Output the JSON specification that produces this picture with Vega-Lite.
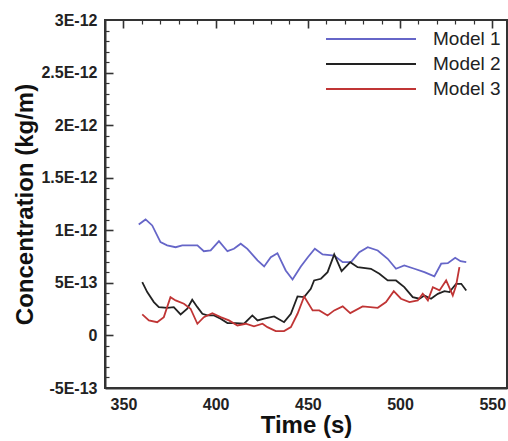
{
  "$schema": "https://vega.github.io/schema/vega-lite/v6.json",
  "width": 402,
  "height": 368,
  "autosize": {"type": "none"},
  "padding": {"left": 105, "top": 20, "right": 1, "bottom": 53},
  "background": "white",
  "config": {
    "font": "Liberation Sans",
    "view": {"stroke": "#333333", "strokeWidth": 2}
  },
  "data": {
    "values": [
      {"t": 358.3, "c": 1.055e-12, "model": "Model 1"},
      {"t": 362.0, "c": 1.103e-12, "model": "Model 1"},
      {"t": 365.6, "c": 1.046e-12, "model": "Model 1"},
      {"t": 370.1, "c": 8.87e-13, "model": "Model 1"},
      {"t": 373.7, "c": 8.56e-13, "model": "Model 1"},
      {"t": 378.3, "c": 8.39e-13, "model": "Model 1"},
      {"t": 381.9, "c": 8.56e-13, "model": "Model 1"},
      {"t": 390.1, "c": 8.56e-13, "model": "Model 1"},
      {"t": 393.6, "c": 8.01e-13, "model": "Model 1"},
      {"t": 397.3, "c": 8.08e-13, "model": "Model 1"},
      {"t": 401.8, "c": 8.96e-13, "model": "Model 1"},
      {"t": 406.4, "c": 8.01e-13, "model": "Model 1"},
      {"t": 409.9, "c": 8.24e-13, "model": "Model 1"},
      {"t": 413.6, "c": 8.72e-13, "model": "Model 1"},
      {"t": 417.2, "c": 8.24e-13, "model": "Model 1"},
      {"t": 422.7, "c": 7.13e-13, "model": "Model 1"},
      {"t": 426.3, "c": 6.56e-13, "model": "Model 1"},
      {"t": 429.9, "c": 7.44e-13, "model": "Model 1"},
      {"t": 433.5, "c": 7.82e-13, "model": "Model 1"},
      {"t": 438.0, "c": 6.18e-13, "model": "Model 1"},
      {"t": 441.7, "c": 5.32e-13, "model": "Model 1"},
      {"t": 446.2, "c": 6.56e-13, "model": "Model 1"},
      {"t": 450.0, "c": 7.44e-13, "model": "Model 1"},
      {"t": 453.8, "c": 8.24e-13, "model": "Model 1"},
      {"t": 458.0, "c": 7.70e-13, "model": "Model 1"},
      {"t": 464.3, "c": 7.60e-13, "model": "Model 1"},
      {"t": 468.9, "c": 6.97e-13, "model": "Model 1"},
      {"t": 473.4, "c": 6.97e-13, "model": "Model 1"},
      {"t": 477.9, "c": 7.92e-13, "model": "Model 1"},
      {"t": 482.5, "c": 8.39e-13, "model": "Model 1"},
      {"t": 487.9, "c": 8.08e-13, "model": "Model 1"},
      {"t": 493.3, "c": 7.29e-13, "model": "Model 1"},
      {"t": 497.8, "c": 6.34e-13, "model": "Model 1"},
      {"t": 502.3, "c": 6.65e-13, "model": "Model 1"},
      {"t": 507.8, "c": 6.34e-13, "model": "Model 1"},
      {"t": 513.2, "c": 6.02e-13, "model": "Model 1"},
      {"t": 518.6, "c": 5.61e-13, "model": "Model 1"},
      {"t": 522.3, "c": 6.82e-13, "model": "Model 1"},
      {"t": 525.9, "c": 6.87e-13, "model": "Model 1"},
      {"t": 529.9, "c": 7.39e-13, "model": "Model 1"},
      {"t": 532.8, "c": 7.06e-13, "model": "Model 1"},
      {"t": 535.9, "c": 6.97e-13, "model": "Model 1"},

      {"t": 360.2, "c": 5.07e-13, "model": "Model 2"},
      {"t": 362.9, "c": 4.12e-13, "model": "Model 2"},
      {"t": 366.5, "c": 3.17e-13, "model": "Model 2"},
      {"t": 369.2, "c": 2.69e-13, "model": "Model 2"},
      {"t": 373.8, "c": 2.63e-13, "model": "Model 2"},
      {"t": 377.3, "c": 2.69e-13, "model": "Model 2"},
      {"t": 381.0, "c": 2.00e-13, "model": "Model 2"},
      {"t": 384.6, "c": 2.54e-13, "model": "Model 2"},
      {"t": 387.3, "c": 3.39e-13, "model": "Model 2"},
      {"t": 390.1, "c": 2.69e-13, "model": "Model 2"},
      {"t": 392.8, "c": 2.06e-13, "model": "Model 2"},
      {"t": 395.5, "c": 1.90e-13, "model": "Model 2"},
      {"t": 399.1, "c": 1.90e-13, "model": "Model 2"},
      {"t": 402.7, "c": 1.59e-13, "model": "Model 2"},
      {"t": 406.4, "c": 1.17e-13, "model": "Model 2"},
      {"t": 410.9, "c": 1.17e-13, "model": "Model 2"},
      {"t": 415.4, "c": 1.11e-13, "model": "Model 2"},
      {"t": 419.9, "c": 1.90e-13, "model": "Model 2"},
      {"t": 422.7, "c": 1.43e-13, "model": "Model 2"},
      {"t": 426.3, "c": 1.59e-13, "model": "Model 2"},
      {"t": 431.7, "c": 1.81e-13, "model": "Model 2"},
      {"t": 437.1, "c": 1.26e-13, "model": "Model 2"},
      {"t": 440.8, "c": 2.06e-13, "model": "Model 2"},
      {"t": 444.4, "c": 3.71e-13, "model": "Model 2"},
      {"t": 448.0, "c": 3.64e-13, "model": "Model 2"},
      {"t": 451.6, "c": 4.44e-13, "model": "Model 2"},
      {"t": 453.4, "c": 5.23e-13, "model": "Model 2"},
      {"t": 457.1, "c": 5.39e-13, "model": "Model 2"},
      {"t": 460.7, "c": 6.02e-13, "model": "Model 2"},
      {"t": 464.3, "c": 7.70e-13, "model": "Model 2"},
      {"t": 468.3, "c": 6.11e-13, "model": "Model 2"},
      {"t": 473.0, "c": 6.97e-13, "model": "Model 2"},
      {"t": 477.0, "c": 6.49e-13, "model": "Model 2"},
      {"t": 484.2, "c": 6.34e-13, "model": "Model 2"},
      {"t": 488.8, "c": 5.87e-13, "model": "Model 2"},
      {"t": 493.3, "c": 5.23e-13, "model": "Model 2"},
      {"t": 497.8, "c": 5.23e-13, "model": "Model 2"},
      {"t": 502.3, "c": 4.59e-13, "model": "Model 2"},
      {"t": 506.9, "c": 3.64e-13, "model": "Model 2"},
      {"t": 510.5, "c": 3.49e-13, "model": "Model 2"},
      {"t": 513.2, "c": 3.80e-13, "model": "Model 2"},
      {"t": 516.8, "c": 3.49e-13, "model": "Model 2"},
      {"t": 520.5, "c": 3.96e-13, "model": "Model 2"},
      {"t": 524.1, "c": 4.21e-13, "model": "Model 2"},
      {"t": 526.8, "c": 4.12e-13, "model": "Model 2"},
      {"t": 530.4, "c": 4.91e-13, "model": "Model 2"},
      {"t": 533.2, "c": 4.91e-13, "model": "Model 2"},
      {"t": 535.9, "c": 4.28e-13, "model": "Model 2"},

      {"t": 360.2, "c": 2.00e-13, "model": "Model 3"},
      {"t": 363.8, "c": 1.43e-13, "model": "Model 3"},
      {"t": 368.3, "c": 1.26e-13, "model": "Model 3"},
      {"t": 371.9, "c": 1.74e-13, "model": "Model 3"},
      {"t": 375.5, "c": 3.64e-13, "model": "Model 3"},
      {"t": 378.3, "c": 3.33e-13, "model": "Model 3"},
      {"t": 382.8, "c": 3.01e-13, "model": "Model 3"},
      {"t": 386.4, "c": 2.54e-13, "model": "Model 3"},
      {"t": 390.1, "c": 1.11e-13, "model": "Model 3"},
      {"t": 393.6, "c": 1.74e-13, "model": "Model 3"},
      {"t": 398.2, "c": 2.12e-13, "model": "Model 3"},
      {"t": 402.7, "c": 1.74e-13, "model": "Model 3"},
      {"t": 407.2, "c": 1.43e-13, "model": "Model 3"},
      {"t": 411.8, "c": 0.95e-13, "model": "Model 3"},
      {"t": 416.3, "c": 1.11e-13, "model": "Model 3"},
      {"t": 420.8, "c": 0.86e-13, "model": "Model 3"},
      {"t": 425.4, "c": 1.11e-13, "model": "Model 3"},
      {"t": 428.1, "c": 0.79e-13, "model": "Model 3"},
      {"t": 432.6, "c": 0.41e-13, "model": "Model 3"},
      {"t": 437.1, "c": 0.41e-13, "model": "Model 3"},
      {"t": 440.8, "c": 0.79e-13, "model": "Model 3"},
      {"t": 444.4, "c": 2.06e-13, "model": "Model 3"},
      {"t": 448.0, "c": 3.71e-13, "model": "Model 3"},
      {"t": 452.6, "c": 2.38e-13, "model": "Model 3"},
      {"t": 456.2, "c": 2.38e-13, "model": "Model 3"},
      {"t": 460.7, "c": 1.90e-13, "model": "Model 3"},
      {"t": 464.3, "c": 2.38e-13, "model": "Model 3"},
      {"t": 468.9, "c": 2.76e-13, "model": "Model 3"},
      {"t": 473.0, "c": 2.12e-13, "model": "Model 3"},
      {"t": 479.7, "c": 2.76e-13, "model": "Model 3"},
      {"t": 487.9, "c": 2.63e-13, "model": "Model 3"},
      {"t": 492.4, "c": 3.17e-13, "model": "Model 3"},
      {"t": 496.6, "c": 4.21e-13, "model": "Model 3"},
      {"t": 500.5, "c": 3.49e-13, "model": "Model 3"},
      {"t": 505.1, "c": 3.17e-13, "model": "Model 3"},
      {"t": 509.6, "c": 3.33e-13, "model": "Model 3"},
      {"t": 512.3, "c": 3.96e-13, "model": "Model 3"},
      {"t": 515.1, "c": 3.33e-13, "model": "Model 3"},
      {"t": 517.8, "c": 4.59e-13, "model": "Model 3"},
      {"t": 521.4, "c": 4.28e-13, "model": "Model 3"},
      {"t": 525.0, "c": 5.23e-13, "model": "Model 3"},
      {"t": 528.6, "c": 3.80e-13, "model": "Model 3"},
      {"t": 530.4, "c": 4.75e-13, "model": "Model 3"},
      {"t": 532.2, "c": 6.49e-13, "model": "Model 3"}
    ]
  },
  "resolve": {"axis": {"x": "independent", "y": "independent"}},
  "layer": [
    {
      "mark": {"type": "line", "strokeOpacity": 0},
      "encoding": {
        "x": {
          "field": "t",
          "type": "quantitative",
          "scale": {"domain": [340, 558], "nice": false, "zero": false},
          "axis": {
            "orient": "bottom",
            "title": null,
            "labels": false,
            "domain": false,
            "ticks": false,
            "grid": true,
            "gridColor": "#333333",
            "gridOpacity": 1,
            "gridWidth": 1.2,
            "gridDash": [4, 2000],
            "values": [360, 370, 380, 390, 410, 420, 430, 440, 460, 470, 480, 490, 510, 520, 530, 540]
          }
        },
        "y": {
          "field": "c",
          "type": "quantitative",
          "scale": {"domain": [-5e-13, 3e-12], "nice": false, "zero": false},
          "axis": {
            "orient": "left",
            "title": null,
            "labels": false,
            "domain": false,
            "ticks": false,
            "grid": true,
            "gridColor": "#333333",
            "gridOpacity": 1,
            "gridWidth": 1.2,
            "gridDash": [4, 2000],
            "values": [-4e-13, -3e-13, -2e-13, -1e-13, 1e-13, 2e-13, 3e-13, 4e-13, 6e-13, 7e-13, 8e-13, 9e-13, 1.1e-12, 1.2e-12, 1.3e-12, 1.4e-12, 1.6e-12, 1.7e-12, 1.8e-12, 1.9e-12, 2.1e-12, 2.2e-12, 2.3e-12, 2.4e-12, 2.6e-12, 2.7e-12, 2.8e-12, 2.9e-12]
          }
        }
      }
    },
    {
      "mark": {"type": "line", "strokeOpacity": 0},
      "encoding": {
        "x": {
          "field": "t",
          "type": "quantitative",
          "axis": {
            "orient": "bottom",
            "title": null,
            "labels": false,
            "domain": false,
            "ticks": false,
            "grid": true,
            "gridColor": "#333333",
            "gridOpacity": 1,
            "gridWidth": 1.6,
            "gridDash": [8, 2000],
            "values": [350, 400, 450, 500, 550]
          }
        },
        "y": {
          "field": "c",
          "type": "quantitative",
          "axis": {
            "orient": "left",
            "title": null,
            "labels": false,
            "domain": false,
            "ticks": false,
            "grid": true,
            "gridColor": "#333333",
            "gridOpacity": 1,
            "gridWidth": 1.6,
            "gridDash": [8, 2000],
            "values": [0, 5e-13, 1e-12, 1.5e-12, 2e-12, 2.5e-12]
          }
        }
      }
    },
    {
      "mark": {"type": "line", "strokeWidth": 1.8, "clip": true},
      "encoding": {
        "x": {
          "field": "t",
          "type": "quantitative",
          "axis": {
            "orient": "bottom",
            "title": "Time (s)",
            "titleFontSize": 24,
            "titleFontWeight": "bold",
            "titleColor": "#111",
            "titleBaseline": "alphabetic",
            "titleY": 44,
            "values": [350, 400, 450, 500, 550],
            "labelFontSize": 16,
            "labelFontWeight": "bold",
            "labelColor": "#222",
            "labelPadding": 8,
            "labelFlush": false,
            "grid": false,
            "ticks": false,
            "tickSize": 0,
            "domainColor": "#333",
            "domainWidth": 2
          }
        },
        "y": {
          "field": "c",
          "type": "quantitative",
          "axis": {
            "orient": "left",
            "title": "Concentration (kg/m)",
            "titleFontSize": 24,
            "titleFontWeight": "bold",
            "titleColor": "#111",
            "titleBaseline": "alphabetic",
            "titleX": -73,
            "values": [-5e-13, 0, 5e-13, 1e-12, 1.5e-12, 2e-12, 2.5e-12, 3e-12],
            "labelExpr": "datum.value == 0 ? '0' : (datum.value < 0 ? '-' : '') + upper(format(abs(datum.value), '~e'))",
            "labelFontSize": 16,
            "labelFontWeight": "bold",
            "labelColor": "#222",
            "labelPadding": 8,
            "labelFlush": false,
            "grid": false,
            "ticks": false,
            "tickSize": 0,
            "domainColor": "#333",
            "domainWidth": 2
          }
        },
        "color": {
          "field": "model",
          "type": "nominal",
          "scale": {"domain": ["Model 1", "Model 2", "Model 3"], "range": ["#6666c8", "#222222", "#c03535"]},
          "legend": {
            "title": null,
            "orient": "none",
            "legendX": 255,
            "legendY": 8,
            "symbolType": "M-4.5,0H4.5",
            "symbolSize": 400,
            "symbolStrokeWidth": 2,
            "labelFontSize": 19,
            "labelColor": "#222",
            "labelOffset": 51,
            "rowPadding": 4
          }
        }
      }
    }
  ]
}
